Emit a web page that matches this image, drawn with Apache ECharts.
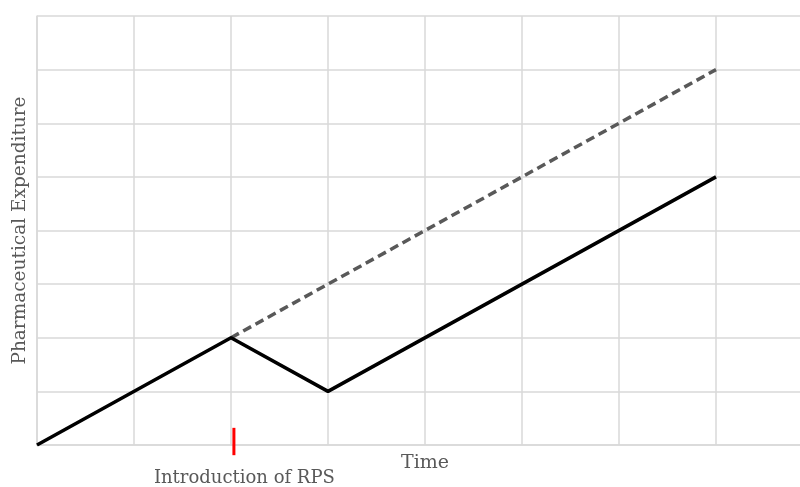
<!DOCTYPE html>
<html><head><meta charset="utf-8">
<script src="https://cdn.jsdelivr.net/npm/echarts@6/dist/echarts.min.js"></script>
<style>html,body{margin:0;padding:0;background:#fff}#c{width:800px;height:487px}</style>
</head><body><div id="c"></div>
<script>
const actual = [[0,0],[2,2],[3,1],[7,5]];
const counterfactual = [[2,2],[7,7]];
const rpsTick = [[2.03,0.32],[2.03,-0.19]];
const xName = 'Time';
const yName = 'Pharmaceutical Expenditure';
const rpsLabel = 'Introduction of RPS';

const chart = echarts.init(document.getElementById('c'));
const grid = {left:37, top:16, right:-13, bottom:42, outerBoundsMode:'none', containLabel:false};
chart.setOption({
  animation:false,
  grid: grid,
  xAxis:{type:'value',min:0,max:8,interval:1,
    name:xName,nameLocation:'middle',nameGap:9,
    nameTextStyle:{fontFamily:'DejaVu Serif',fontSize:19,color:'#595959',verticalAlign:'top'},
    axisLine:{show:true,lineStyle:{color:'#d9d9d9',width:1.5}},
    axisTick:{show:false},axisLabel:{show:false},
    splitLine:{show:true,lineStyle:{color:'#d9d9d9',width:1.5}}},
  yAxis:{type:'value',min:0,max:8,interval:1,
    name:yName,nameLocation:'middle',nameGap:7,
    nameTextStyle:{fontFamily:'DejaVu Serif',fontSize:18.5,color:'#595959'},
    axisLine:{show:true,lineStyle:{color:'#d9d9d9',width:1.5}},
    axisTick:{show:false},axisLabel:{show:false},
    splitLine:{show:true,lineStyle:{color:'#d9d9d9',width:1.5}}},
  series:[
    {type:'line',data:counterfactual,symbol:'none',z:2,
      lineStyle:{color:'#595959',width:3.5,type:[9,5]}},
    {type:'line',data:actual,symbol:'none',z:3,
      lineStyle:{color:'#000',width:3.5}},
    {type:'line',data:rpsTick,symbol:'none',clip:false,z:4,
      lineStyle:{color:'#ff0000',width:3}}
  ]
});
const p = chart.convertToPixel({gridIndex:0},[2.03,0]);
chart.setOption({graphic:[{type:'text',left:p[0]-80,top:469,
  style:{text:rpsLabel,fontFamily:'DejaVu Serif',fontSize:18,fill:'#595959'}}]});
</script></body></html>
